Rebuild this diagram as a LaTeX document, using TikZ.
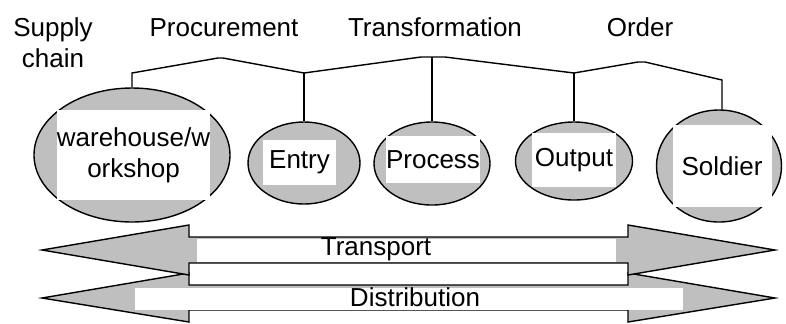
\documentclass[tikz,border=0pt]{standalone}
\usepackage{fontspec}
\setmainfont{Liberation Sans}
\usetikzlibrary{shapes.geometric}

\definecolor{shade}{gray}{0.75}

\begin{document}
\begin{tikzpicture}[
  x=0.5pt, y=-0.5pt,
  every node/.style={font=\fontsize{13}{15.5}\selectfont},
  stage/.style={ellipse, draw=black, fill=shade, line width=0.7pt, inner sep=0pt},
  tag/.style={rectangle, fill=white, inner sep=0pt, align=center},
  head/.style={align=center},
  link/.style={line width=0.7pt, black},
  band/.style={draw=black, fill=shade, line width=0.7pt, line join=miter}
]
\useasboundingbox (0,0) rectangle (786,323);

% ---- TOP HEADINGS ----
\node[head] (chain) at (53,43) {Supply\\chain};
\node[head, anchor=base] (proc-h) at (224,36) {Procurement};
\node[head, anchor=base] (trans-h) at (435,36) {Transformation};
\node[head, anchor=base] (order-h) at (640,36) {Order};

% ---- STAGES ----
\node[stage, minimum width=98pt, minimum height=67pt] (wh) at (132,155) {};
\node[tag, minimum width=66.5pt, minimum height=45pt] (whtag) at (133.5,155) {warehouse/w\\orkshop};

\node[stage, minimum width=56pt, minimum height=41pt] (entry) at (304,163) {};
\node[tag, minimum width=36.5pt, minimum height=22.5pt] (entrytag) at (299.5,162.5) {Entry};

\node[stage, minimum width=58pt, minimum height=41.5pt] (proc) at (432,163.5) {};
\node[tag, minimum width=41pt, minimum height=23.5pt] (proctag) at (433,159.5) {Process};

\node[stage, minimum width=58.5pt, minimum height=39pt] (outp) at (574,161) {};
\node[tag, minimum width=42pt, minimum height=27pt] (outptag) at (574,160) {Output};

\node[stage, minimum width=62.5pt, minimum height=56pt] (sold) at (719,166) {};
\node[tag, minimum width=49.5pt, minimum height=41pt] (soldtag) at (722,166) {Soldier};

% ---- BRACKET ----
\coordinate (k1) at (132,73);
\coordinate (p1a) at (218,58);
\coordinate (p1b) at (223,58);
\coordinate (k2) at (304,73);
\coordinate (p2a) at (421,57);
\coordinate (p2b) at (445,57);
\coordinate (k3) at (574,73);
\coordinate (p3a) at (638,62);
\coordinate (p3b) at (645,62);
\coordinate (k4) at (722,80);
\draw[link] (wh.north) -- (k1) -- (p1a) -- (p1b) -- (k2) -- (p2a) -- (p2b)
  -- (k3) -- (p3a) -- (p3b) -- (k4) -- (k4 |- sold.north);
\draw[link] (entry.north) -- (k2);
\draw[link] (proc.north) -- (proc.north |- p2a);
\draw[link] (outp.north) -- (k3);

% ---- FLOWS ----
\draw[band] (42,298) -- (189,273) -- (189,285) -- (628,285) -- (628,273) -- (775,298)
  -- (628,322) -- (628,310) -- (189,310) -- (189,322) -- cycle;
\draw[band] (42,250) -- (189,225) -- (189,237) -- (628,237) -- (628,225) -- (775,250)
  -- (628,275) -- (628,263) -- (189,263) -- (189,275) -- cycle;
\node[tag, minimum width=209.5pt, minimum height=11.5pt] (tbox) at (406.5,250.5) {};
\node (transport) at (376,249) {Transport};
\node[tag, minimum width=274pt, minimum height=11pt] (dbox) at (409,299) {};
\node (distrib) at (415,297) {Distribution};
\end{tikzpicture}
\end{document}
